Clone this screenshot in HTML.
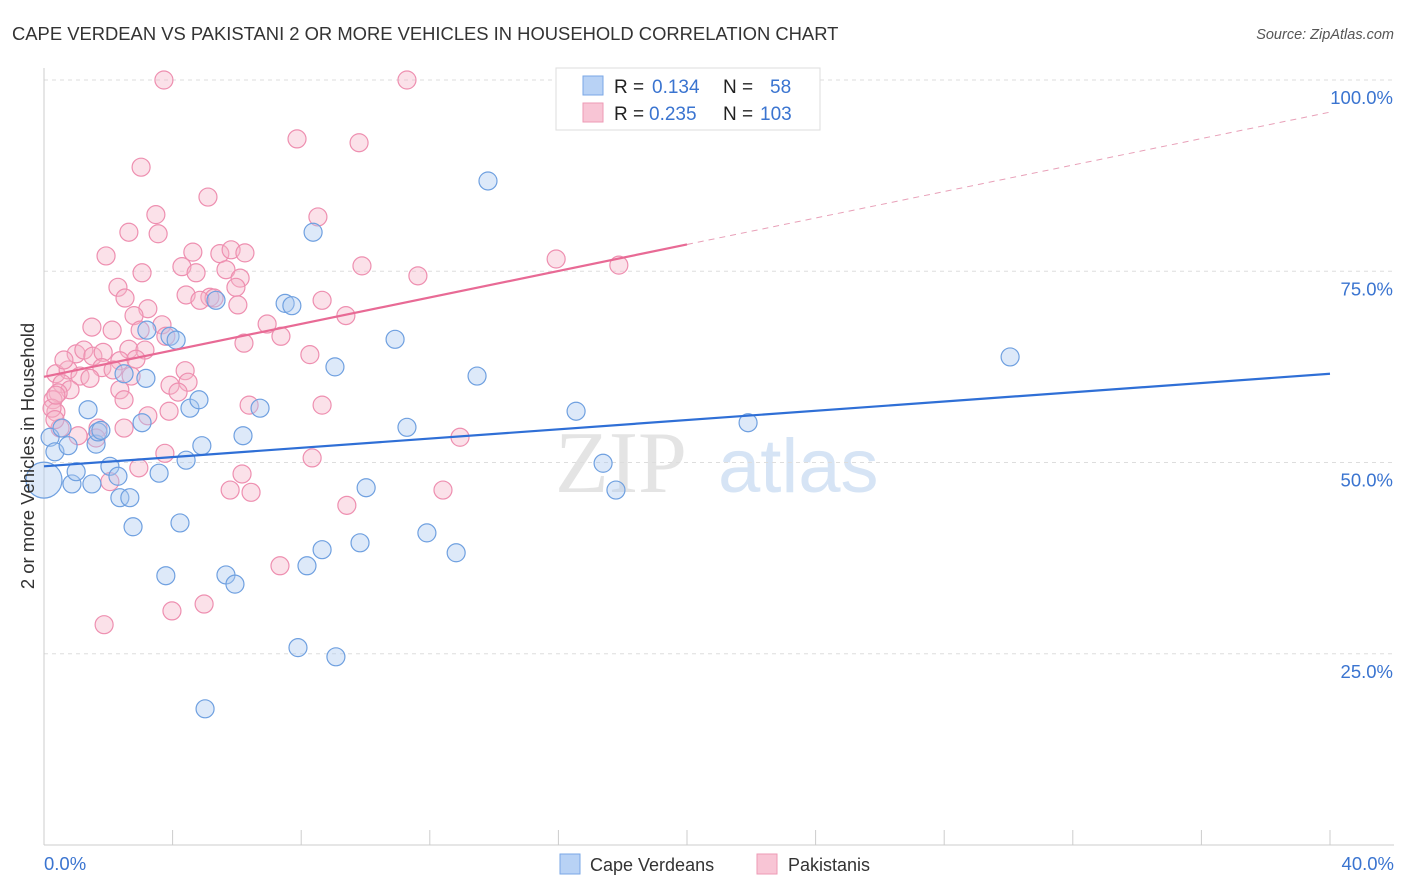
<!DOCTYPE html>
<html><head><meta charset="utf-8"><style>
body{margin:0;background:#fff;font-family:"Liberation Sans",sans-serif;}
svg{display:block}
</style></head><body>
<svg id="chart" width="1406" height="892" xmlns="http://www.w3.org/2000/svg">
<text x="12" y="40" font-size="18.4" fill="#333">CAPE VERDEAN VS PAKISTANI 2 OR MORE VEHICLES IN HOUSEHOLD CORRELATION CHART</text>
<text x="1394" y="39" font-size="14.5" fill="#555" font-style="italic" text-anchor="end">Source: ZipAtlas.com</text>
<g><text x="555" y="492" font-size="88" fill="#e4e4e4" font-family="Liberation Serif,serif">ZIP</text><text x="718" y="492" font-size="76" fill="#d6e4f5">atlas</text></g>
<g id="grid"></g>
<g id="axes"></g>
<g id="pinkpts"></g>
<g id="bluepts"></g>
<g id="trends"></g>
<text transform="translate(34,456) rotate(-90)" font-size="18.5" fill="#333" text-anchor="middle">2 or more Vehicles in Household</text>
<g>
<rect x="556" y="68" width="264" height="62" fill="#fff" stroke="#ddd"/>
<rect x="583" y="76" width="20" height="19" fill="#b8d2f5" stroke="#7aa7e6"/>
<rect x="583" y="103" width="20" height="19" fill="#f8c5d5" stroke="#ee9ab5"/>
<text x="614" y="93" font-size="19" fill="#222">R = </text><text x="652" y="93" font-size="19" fill="#3a74d0">0.134</text>
<text x="723" y="93" font-size="19" fill="#222">N = </text><text x="770" y="93" font-size="19" fill="#3a74d0">58</text>
<text x="614" y="120" font-size="19" fill="#222">R = </text><text x="649" y="120" font-size="19" fill="#3a74d0">0.235</text>
<text x="723" y="120" font-size="19" fill="#222">N = </text><text x="760" y="120" font-size="19" fill="#3a74d0">103</text>
</g>
<g>
<rect x="560" y="854" width="20" height="20" fill="#b8d2f5" stroke="#7aa7e6"/>
<text x="590" y="871" font-size="18" fill="#333">Cape Verdeans</text>
<rect x="757" y="854" width="20" height="20" fill="#f8c5d5" stroke="#ee9ab5"/>
<text x="788" y="871" font-size="18" fill="#333">Pakistanis</text>
</g>
</svg>
<script>
const blueX=[0,0.19,0.34,0.56,0.75,0.87,1.0,1.37,1.49,1.62,1.68,1.77,2.05,2.30,2.36,2.49,2.67,2.77,3.05,3.17,3.20,3.58,3.79,3.92,4.11,4.23,4.42,4.54,4.82,4.91,5.01,5.35,5.66,5.94,6.19,6.72,7.50,7.71,7.90,8.18,8.37,8.65,9.08,9.05,9.83,10.02,10.92,11.29,11.91,12.82,13.47,13.81,16.55,17.39,17.79,21.90,30.05];
const blueY=[47.7,53.3,51.4,54.5,52.2,47.2,48.8,56.9,47.2,52.4,54.0,54.2,49.5,48.2,45.4,61.6,45.4,41.6,55.2,61.0,67.3,48.6,35.2,66.5,66.0,42.1,50.3,57.1,58.2,52.2,17.8,71.2,35.3,34.1,53.5,57.1,70.8,70.5,25.8,36.5,80.1,38.6,24.6,62.5,39.5,46.7,66.1,54.6,40.8,38.2,61.3,86.8,56.7,49.9,46.4,55.2,63.8];
const pinkX=[3.73,11.29,7.87,9.80,3.02,5.10,3.48,8.52,2.64,3.55,1.93,4.63,5.47,5.82,6.25,4.29,4.73,3.05,5.66,9.89,11.63,15.93,17.88,2.30,6.10,5.97,4.42,2.52,5.16,5.29,8.65,3.23,2.80,9.39,1.49,2.12,3.67,6.94,3.79,7.37,6.22,2.64,3.14,8.27,1.00,1.24,1.52,1.84,2.36,2.86,4.39,1.80,0.37,0.75,1.12,1.43,2.15,2.71,3.92,4.48,0.56,0.81,0.44,0.28,2.36,2.49,4.17,0.37,0.25,3.23,3.89,6.38,8.65,0.50,1.06,1.68,1.62,2.49,12.94,3.76,8.34,2.95,6.16,2.05,6.44,12.41,9.42,7.34,4.98,3.98,1.87,5.79,0.34,0.62,2.99,4.85,6.03,0.37];
const pinkY=[100,100,92.3,91.8,88.6,84.7,82.4,82.1,80.1,79.9,77.0,77.5,77.3,77.8,77.4,75.6,74.8,74.8,75.2,75.7,74.4,76.6,75.8,72.9,74.1,72.9,71.9,71.5,71.6,71.5,71.2,70.1,69.2,69.2,67.7,67.3,68.0,68.1,66.5,66.5,65.6,64.8,64.7,64.1,64.2,64.7,63.9,64.4,63.3,63.5,62.0,62.4,61.6,62.1,61.3,61.0,62.1,61.3,60.1,60.5,60.3,59.5,59.1,58.2,59.5,58.2,59.2,56.6,57.1,56.1,56.7,57.5,57.5,54.5,53.5,54.5,53.2,54.5,53.3,51.2,50.6,49.3,48.5,47.5,46.1,46.4,44.4,36.5,31.5,30.6,28.8,46.4,55.6,63.4,67.3,71.2,70.6,58.8];
const blueTrend=[49.5,61.6];
const pinkTrend=[61.2,95.8];
const pinkSolidEnd=20;
const yTicks=[25,50,75,100];
const yTickLabels=["25.0%","50.0%","75.0%","100.0%"];
const xTicks=[0,4,8,12,16,20,24,28,32,36,40];
const xTickLabels=["0.0%","40.0%"];

const NS="http://www.w3.org/2000/svg";
const X=v=>44+v/40*1286, Y=v=>845-v/100*765;
function mk(tag,attrs,parent){const e=document.createElementNS(NS,tag);for(const k in attrs)e.setAttribute(k,attrs[k]);parent.appendChild(e);return e;}
const grid=document.getElementById('grid'),axes=document.getElementById('axes');
yTicks.forEach((t,i)=>{
  const l=mk('line',{x1:44,x2:1394,y1:Y(t),y2:Y(t),stroke:'#ddd','stroke-dasharray':'4,4'},grid);
  
  
  const tx=mk('text',{x:1393,y:Y(t)+24,'font-size':18.5,fill:'#3a74d0','text-anchor':'end'},axes);
  tx.textContent=yTickLabels[i];
  
  
});
const ax=mk('line',{x1:44,x2:1394,y1:845,y2:845,stroke:'#ccc'},axes);


const ay=mk('line',{x1:44,x2:44,y1:68,y2:845,stroke:'#ccc'},axes);


xTicks.forEach(t=>{
  const l=mk('line',{x1:X(t),x2:X(t),y1:830,y2:845,stroke:'#ccc'},axes);
  
  
});
[[0,'start',44],[40,'end',1394]].forEach((p,i)=>{
  const tx=mk('text',{x:p[2],y:870,'font-size':18.5,fill:'#3a74d0','text-anchor':p[1]},axes);
  tx.textContent=xTickLabels[i];
  
  
});
const pg=document.getElementById('pinkpts');
pinkX.forEach((v,i)=>{
  const c=mk('circle',{cx:X(v),cy:Y(pinkY[i]),r:9,fill:'#f4b3c7','fill-opacity':0.4,stroke:'#ee8fb0','stroke-width':1.2},pg);
  
  
});
const bg=document.getElementById('bluepts');
blueX.forEach((v,i)=>{
  const c=mk('circle',{cx:X(v),cy:Y(blueY[i]),r:i===0?18:9,fill:'#a9c9f0','fill-opacity':0.4,stroke:'#6fa0e0','stroke-width':1.2},bg);
  
  
});
const tg=document.getElementById('trends');
const bl=mk('line',{x1:X(0),y1:Y(blueTrend[0]),x2:X(40),y2:Y(blueTrend[1]),stroke:'#2f6fd6','stroke-width':2.2},tg);


const pAt=x=>pinkTrend[0]+(pinkTrend[1]-pinkTrend[0])*x/40;
const ps=mk('line',{x1:X(0),y1:Y(pAt(0)),x2:X(pinkSolidEnd),y2:Y(pAt(pinkSolidEnd)),stroke:'#e86a95','stroke-width':2.2},tg);


const pd=mk('line',{x1:X(pinkSolidEnd),y1:Y(pAt(pinkSolidEnd)),x2:X(40),y2:Y(pAt(40)),stroke:'#e8a0b8','stroke-width':1,'stroke-dasharray':'6,5'},tg);


</script>
</body></html>
